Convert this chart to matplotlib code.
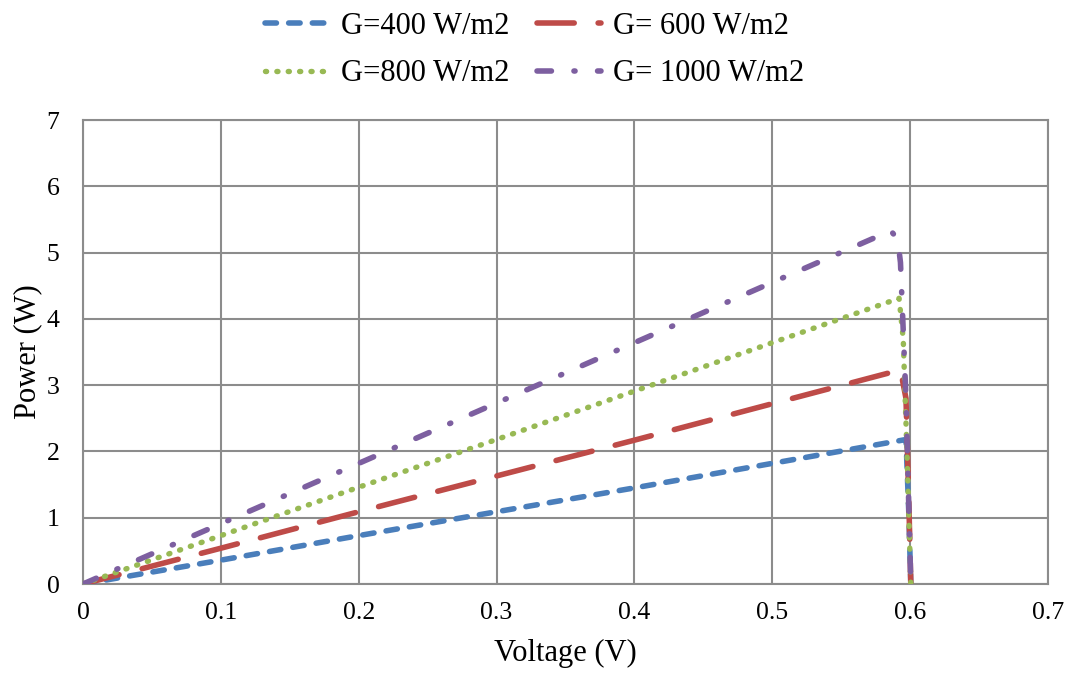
import matplotlib
matplotlib.use("Agg")
import matplotlib.pyplot as plt

# PV power curves at four irradiance levels
v_400 = [0.0, 0.1, 0.2, 0.3, 0.4, 0.5, 0.597, 0.599, 0.6005]
p_400 = [0.0, 0.36, 0.73, 1.09, 1.45, 1.82, 2.18, 1.10, 0.0]

v_600 = [0.0, 0.1, 0.2, 0.3, 0.4, 0.5, 0.593, 0.597, 0.599, 0.6005]
p_600 = [0.0, 0.54, 1.09, 1.63, 2.17, 2.72, 3.23, 2.80, 1.30, 0.0]

v_800 = [0.0, 0.1, 0.2, 0.3, 0.4, 0.5, 0.592, 0.595, 0.598, 0.6005]
p_800 = [0.0, 0.73, 1.46, 2.18, 2.91, 3.64, 4.31, 3.70, 1.80, 0.0]

v_1000 = [0.0, 0.1, 0.2, 0.3, 0.4, 0.5, 0.586, 0.591, 0.593, 0.597, 0.6005]
p_1000 = [0.0, 0.91, 1.82, 2.73, 3.64, 4.55, 5.33, 5.20, 4.85, 2.80, 0.0]

labels = ["G=400 W/m2", "G= 600 W/m2", "G=800 W/m2", "G= 1000 W/m2"]
colors = ["#4a7ebb", "#be4b48", "#98b954", "#7d5fa0"]

x_ticks = [0, 0.1, 0.2, 0.3, 0.4, 0.5, 0.6, 0.7]
x_tick_labels = ["0", "0.1", "0.2", "0.3", "0.4", "0.5", "0.6", "0.7"]
y_ticks = [0, 1, 2, 3, 4, 5, 6, 7]

plt.rcParams["font.family"] = ["Liberation Serif", "DejaVu Serif"]

fig = plt.figure(figsize=(10.71, 6.75), dpi=100)
ax = fig.add_axes([0.0775, 0.1348, 0.901, 0.6874])

widths = [4.0, 4.0, 3.9, 4.0]
styles = [
    (0, (2.06, 2.2)),
    (0, (6.7, 4.3)),
    (0, (0.2, 1.9)),
    (0, (2.6, 4.05, 0.2, 4.05)),
]
series = [(v_400, p_400), (v_600, p_600), (v_800, p_800), (v_1000, p_1000)]

handles = []
for (v, p), c, ls, w, lab in zip(series, colors, styles, widths, labels):
    h, = ax.plot(v, p, color=c, lw=w, linestyle=ls, dash_capstyle="round",
                 solid_capstyle="round", label=lab, zorder=3)
    handles.append(h)

ax.set_xlim(0, 0.7)
ax.set_ylim(0, 7)
ax.set_xticks(x_ticks)
ax.set_xticklabels(x_tick_labels)
ax.set_yticks(y_ticks)
ax.tick_params(axis="both", length=0, labelsize=18.5, colors="black")
ax.tick_params(axis="y", pad=17)
ax.tick_params(axis="x", pad=13)

ax.grid(True, color="#8c8c8c", lw=1.5)
ax.set_axisbelow(True)
for s in ax.spines.values():
    s.set_color("#8c8c8c")
    s.set_linewidth(1.5)

ax.set_xlabel("Voltage (V)", fontsize=22, labelpad=11)
ax.set_ylabel("Power (W)", fontsize=22, labelpad=3)

# two rows: 400 | 600 on top, 800 | 1000 below
order = [0, 2, 1, 3]
fig.legend(handles=[handles[i] for i in order],
           labels=[labels[i] for i in order],
           loc="upper center", bbox_to_anchor=(0.499, 1.014),
           ncol=2, frameon=False, fontsize=22, handlelength=2.1,
           handletextpad=0.4, columnspacing=0.9, labelspacing=0.6,
           borderpad=0.2)

fig.savefig("out.png", dpi=100)
